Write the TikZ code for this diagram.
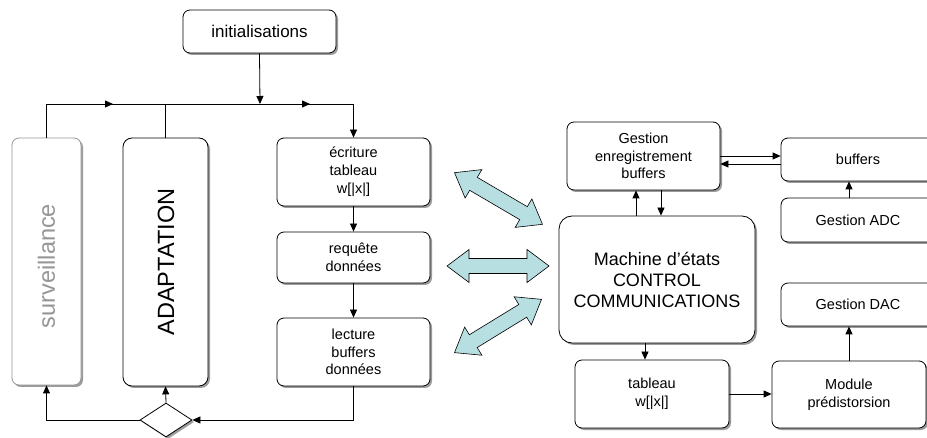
\documentclass[tikz,border=0pt]{standalone}
\usepackage{fontspec}
\setmainfont{Liberation Sans}
\usetikzlibrary{arrows.meta,shapes.geometric,shadows,calc}
\definecolor{arrowblue}{RGB}{183,222,225}
\definecolor{svgrey}{RGB}{150,150,150}
\newcommand\fsBox{\fontsize{14.5}{17.8}\selectfont}
\newcommand\fsInit{\fontsize{17}{20}\selectfont}
\newcommand\fsMach{\fontsize{18}{21}\selectfont}
\newcommand\fsBig{\fontsize{23.5}{26}\selectfont}
\begin{document}
\begin{tikzpicture}[x=1pt,y=-1pt,
  box/.style={draw, line width=0.8pt, rounded corners=7pt, fill=white, inner sep=0pt, align=center,
    drop shadow={shadow xshift=2pt, shadow yshift=-2pt, fill=black!55, opacity=0.7}},
  conn/.style={line width=0.8pt, -{Triangle[length=8pt,width=7pt]}},
  plain/.style={line width=0.8pt},
  dbl/.pic={\path[draw=black, line width=0.6pt, fill=arrowblue]
     (-51,0) -- (-29,16.5) -- (-29,7.5) -- (29,7.5) -- (29,16.5) -- (51,0)
     -- (29,-16.5) -- (29,-7.5) -- (-29,-7.5) -- (-29,-16.5) -- cycle;}
]
\clip (0,0) rectangle (927,438);
\fill[white] (0,0) rectangle (927,438);

% left column
\node[box, minimum width=153pt, minimum height=43pt, font=\fsInit] (init) at (259.5,31.5) {initialisations};
\node[box, draw=svgrey, minimum width=69pt, minimum height=247pt] (sv) at (46.5,261.5) {};
\node[rotate=90, text=svgrey, font=\fsBig] (svt) at (46.5,266) {surveillance};
\node[box, minimum width=85pt, minimum height=248pt, rounded corners=9pt] (ad) at (165.5,262) {};
\node[rotate=90, font=\fsBig] (adt) at (166,262) {ADAPTATION};
\node[box, minimum width=153pt, minimum height=68pt, font=\fsBox] (ecr) at (353.5,172) {écriture\\tableau\\w[|x|]};
\node[box, minimum width=153pt, minimum height=51pt, font=\fsBox] (req) at (353.5,257.5) {requête\\données};
\node[box, minimum width=153pt, minimum height=68pt, font=\fsBox] (lec) at (353.5,352) {lecture\\buffers\\données};
\node[draw, diamond, line width=0.8pt, fill=white, minimum width=52pt, minimum height=34pt, inner sep=0pt,
  drop shadow={shadow xshift=2pt, shadow yshift=-2pt, fill=black!55, opacity=0.7}] (dia) at (166,420) {};

\coordinate (j) at (260,104);
\coordinate (a1) at (113,104);
\coordinate (a2) at (310,104);
\draw[conn] (sv.north) |- (ecr.north|-j) -- (ecr.north);
\draw[conn] (sv.north|-j) -- (a1);
\draw[conn] (sv.north|-j) -- (a2);
\draw[plain] (ad.north) -- (ad.north|-j);
\draw[conn] (init.south) -- (j);
\draw[conn] (ecr.south) -- (req.north);
\draw[conn] (req.south) -- (lec.north);
\draw[conn] (lec.south) |- (dia.east);
\draw[conn] (dia.west) -| (sv.south);
\draw[conn] (dia.north) -- (ad.south);

% big double arrows
\pic[rotate=-30.4] (da1) at (498.5,198.5) {dbl};
\pic (da2) at (498,266) {dbl};
\pic[rotate=31.5] (da3) at (498,326) {dbl};

% right side
\node[box, minimum width=153pt, minimum height=68pt, font=\fsBox] (gest) at (643.5,156) {Gestion\\enregistrement\\buffers};
\node[box, minimum width=154pt, minimum height=43pt, font=\fsBox] (buf) at (858,159.5) {buffers};
\node[box, minimum width=154pt, minimum height=44pt, font=\fsBox] (adc) at (858,220) {Gestion ADC};
\node[box, minimum width=196pt, minimum height=127pt, rounded corners=13pt, font=\fsMach] (mach) at (657,279.5) {Machine d’états\\CONTROL\\COMMUNICATIONS};
\node[box, minimum width=154pt, minimum height=43pt, font=\fsBox] (dac) at (858,304.5) {Gestion DAC};
\node[box, minimum width=154pt, minimum height=68pt, font=\fsBox] (tab) at (652,394) {tableau\\w[|x|]};
\node[box, minimum width=154pt, minimum height=67pt, font=\fsBox] (mod) at (849,394.5) {Module\\prédistorsion};

\draw[conn] (gest.east) -- (gest.east-|buf.west);
\draw[conn] ($(gest.east-|buf.west)+(0,8)$) -- ($(gest.east)+(0,8)$);
\coordinate (u1) at ($(mach.north)+(-21,0)$);
\coordinate (d1) at ($(gest.south)+(17.5,0)$);
\coordinate (d2) at ($(tab.north)+(-7,0)$);
\draw[conn] (u1) -- (u1|-gest.south);
\draw[conn] (d1) -- (d1|-mach.north);
\draw[conn] (d2|-mach.south) -- (d2);
\draw[conn] (mod.north|-adc.north) -- (mod.north|-buf.south);
\draw[conn] (mod.north) -- (mod.north|-dac.south);
\draw[conn] (tab.east) -- (tab.east-|mod.west);
\end{tikzpicture}
\end{document}
